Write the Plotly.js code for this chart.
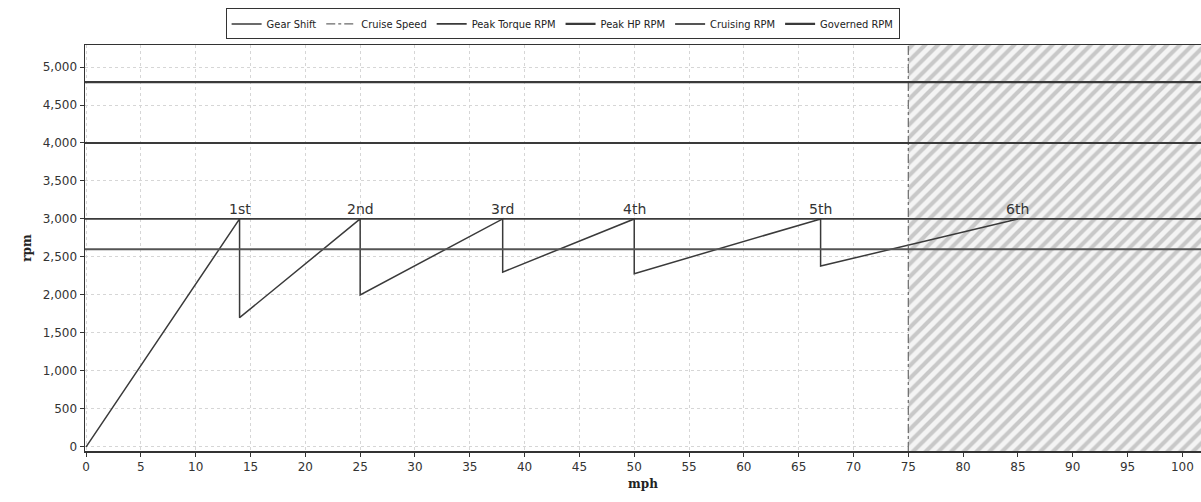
<!DOCTYPE html>
<html><head><meta charset="utf-8">
<script src="https://cdn.plot.ly/plotly-3.0.1.min.js"></script>
<style>html,body{margin:0;padding:0;background:#fff;}#chart{width:1201px;height:502px;}</style>
</head><body><div id="chart"></div>
<script>
// Gear shift sawtooth (mph, rpm)
const shiftMph = [0, 14, 14, 25, 25, 38, 38, 50, 50, 67, 67, 85];
const shiftRpm = [0, 3000, 1700, 3000, 2000, 3000, 2300, 3000, 2280, 3000, 2380, 3000];
// Gear labels
const gearNames = ["1st", "2nd", "3rd", "4th", "5th", "6th"];
const gearMph = [14, 25, 38, 50, 67, 85];
const gearRpm = [3000, 3000, 3000, 3000, 3000, 3000];
// Reference levels
const cruiseSpeed = 75;
const peakTorqueRpm = 3000;
const peakHpRpm = 4000;
const cruisingRpm = 2600;
const governedRpm = 4800;
const xRange = [-0.1, 101.7];
const yRange = [-55, 5290];

const dark = '#3a3a3a';
const traces = [
  {x: [cruiseSpeed, xRange[1], xRange[1], cruiseSpeed, cruiseSpeed],
   y: [yRange[0], yRange[0], yRange[1], yRange[1], yRange[0]],
   mode: 'none', fill: 'toself', fillcolor: 'rgba(0,0,0,0)',
   fillpattern: {shape: '/', fgcolor: '#c8c8c8', bgcolor: '#f4f4f4', size: 9, solidity: 0.45},
   showlegend: false, hoverinfo: 'skip'},
  {x: shiftMph, y: shiftRpm, mode: 'lines', name: 'Gear Shift', line: {color: dark, width: 1.5}},
  {x: [cruiseSpeed, cruiseSpeed], y: yRange, mode: 'lines', name: 'Cruise Speed', line: {color: '#6a6a6a', width: 1.2, dash: 'dashdot'}},
  {x: xRange, y: [peakTorqueRpm, peakTorqueRpm], mode: 'lines', name: 'Peak Torque RPM', line: {color: dark, width: 1.8}},
  {x: xRange, y: [peakHpRpm, peakHpRpm], mode: 'lines', name: 'Peak HP RPM', line: {color: dark, width: 2.2}},
  {x: xRange, y: [cruisingRpm, cruisingRpm], mode: 'lines', name: 'Cruising RPM', line: {color: '#555', width: 2}},
  {x: xRange, y: [governedRpm, governedRpm], mode: 'lines', name: 'Governed RPM', line: {color: dark, width: 2.2}}
];

const annotations = gearNames.map((t, i) => ({
  x: gearMph[i], y: gearRpm[i], text: t, showarrow: false,
  yanchor: 'bottom', yshift: 0, font: {family: 'DejaVu Sans', size: 14, color: '#333'}
}));

const layout = {
  width: 1201, height: 502,
  margin: {l: 85, r: 0, t: 45, b: 51},
  paper_bgcolor: '#fff', plot_bgcolor: '#fff',
  font: {family: 'DejaVu Sans', size: 12, color: '#333'},
  showlegend: true,
  legend: {orientation: 'h', x: 0.126, xanchor: 'left', y: 1.09, yanchor: 'top',
    bordercolor: '#333', borderwidth: 1, bgcolor: '#fff',
    font: {family: 'DejaVu Sans Condensed', size: 11, color: '#222'},
    itemwidth: 30, tracegroupgap: 0},
  xaxis: {range: xRange, dtick: 5, tick0: 0, showgrid: true, gridcolor: '#d6d6d6', griddash: 'dot',
    zeroline: false, showline: true, linecolor: '#333', linewidth: 1.5, mirror: true,
    ticks: 'outside', ticklen: 4, tickcolor: '#333', tickfont: {size: 12, color: '#333'},
    title: {text: 'mph', font: {family: 'DejaVu Serif', size: 12, color: '#222', weight: 'bold'}, standoff: 6}},
  yaxis: {range: yRange, dtick: 500, tick0: 0, tickformat: ',d', showgrid: true, gridcolor: '#d6d6d6', griddash: 'dot',
    zeroline: false, showline: true, linecolor: '#333', linewidth: 1.5, mirror: true,
    ticks: 'outside', ticklen: 4, tickcolor: '#333', tickfont: {size: 12, color: '#333'},
    title: {text: 'rpm', font: {family: 'DejaVu Serif', size: 12, color: '#222', weight: 'bold'}, standoff: 8}},
  annotations: annotations
};
Plotly.newPlot('chart', traces, layout, {displayModeBar: false, staticPlot: true});
</script></body></html>
